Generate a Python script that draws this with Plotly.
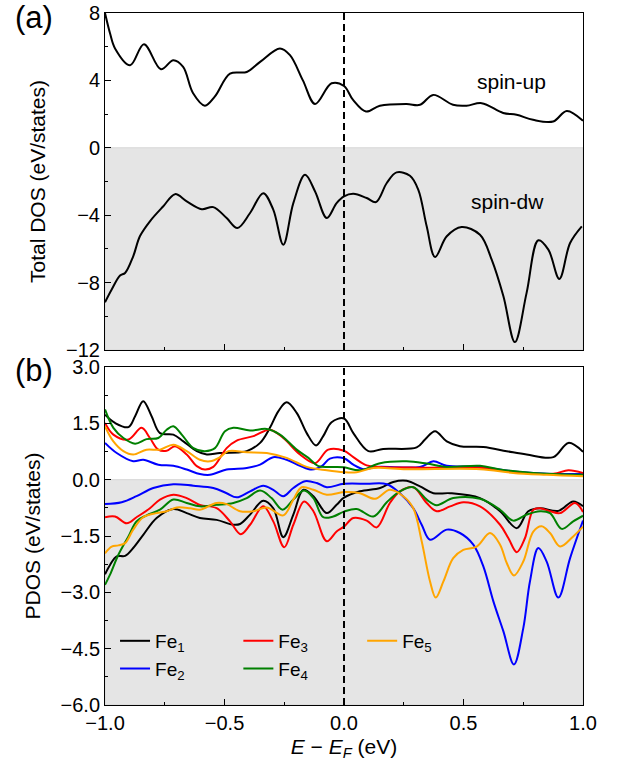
import plotly.graph_objects as go

# ---------------- Total DOS (panel a) ----------------
TOTAL_UP_E = [-1.0, -0.979, -0.958, -0.895, -0.837, -0.766, -0.714, -0.673, -0.632, -0.582,
              -0.54, -0.477, -0.407, -0.351, -0.268, -0.226, -0.172, -0.121, -0.052, 0.0,
              0.038, 0.092, 0.15, 0.262, 0.318, 0.373, 0.456, 0.513, 0.576, 0.666,
              0.722, 0.791, 0.875, 0.932, 1.0]
TOTAL_UP = [8.0, 6.8, 5.9, 4.9, 6.15, 4.66, 5.2, 4.8, 3.25, 2.5,
            3.05, 4.4, 4.5, 5.1, 5.9, 5.5, 4.0, 2.6, 3.83, 3.67,
            2.84, 2.15, 2.5, 2.6, 2.55, 3.14, 2.55, 2.5, 2.65, 2.07,
            1.96, 1.66, 1.56, 2.19, 1.6]

TOTAL_DW_E = [-1.0, -0.972, -0.937, -0.916, -0.882, -0.854, -0.812, -0.756, -0.707, -0.658,
              -0.595, -0.547, -0.491, -0.446, -0.393, -0.338, -0.296, -0.254, -0.212, -0.163,
              -0.121, -0.072, -0.031, 0.0, 0.039, 0.095, 0.134, 0.179, 0.22, 0.276,
              0.311, 0.346, 0.381, 0.43, 0.492, 0.569, 0.618, 0.667, 0.715, 0.764,
              0.813, 0.855, 0.901, 0.946, 0.995]
TOTAL_DW = [-9.17, -8.41, -7.58, -7.43, -6.44, -5.25, -4.36, -3.47, -2.75, -3.18,
            -3.64, -3.52, -4.17, -4.76, -3.87, -2.69, -3.67, -5.75, -3.28, -1.6,
            -2.59, -4.17, -3.28, -2.88, -2.73, -2.98, -3.22, -2.09, -1.46, -1.66,
            -2.49, -4.66, -6.48, -5.25, -4.7, -5.16, -6.64, -8.81, -11.53, -8.61,
            -5.49, -6.04, -7.78, -5.65, -4.66]

# ---------------- Projected DOS (panel b) ----------------
FE1_UP_E = [-1.0, -0.958, -0.902, -0.874, -0.84, -0.805, -0.77, -0.714, -0.672, -0.616,
            -0.574, -0.519, -0.435, -0.407, -0.351, -0.31, -0.275, -0.24, -0.198, -0.156,
            -0.117, -0.087, -0.052, 0.0, 0.039, 0.102, 0.164, 0.304, 0.339, 0.381,
            0.43, 0.485, 0.583, 0.681, 0.764, 0.876, 0.939, 1.0]
FE1_UP = [1.73, 1.51, 1.40, 1.69, 2.09, 1.69, 1.24, 1.2, 1.02, 0.76,
          0.67, 0.71, 0.73, 0.76, 0.98, 1.38, 1.82, 2.06, 1.78, 1.24,
          0.91, 1.16, 1.53, 1.63, 1.24, 0.76, 0.82, 0.86, 1.07, 1.29,
          1.02, 0.89, 0.87, 0.76, 0.67, 0.6, 0.98, 0.74]

FE2_UP_E = [-1.0, -0.951, -0.882, -0.84, -0.777, -0.714, -0.658, -0.603, -0.561, -0.491,
            -0.407, -0.351, -0.296, -0.24, -0.184, -0.135, -0.093, -0.059, 0.0, 0.039,
            0.081, 0.137, 0.318, 0.374, 0.43, 0.569, 0.708, 0.848, 1.0]
FE2_UP = [0.98, 0.71, 0.49, 0.53, 0.4, 0.37, 0.27, 0.15, 0.13, 0.27,
          0.31, 0.4, 0.6, 0.53, 0.37, 0.27, 0.36, 0.56, 0.57, 0.4,
          0.28, 0.34, 0.34, 0.49, 0.37, 0.34, 0.22, 0.16, 0.15]

FE3_UP_E = [-1.0, -0.965, -0.902, -0.847, -0.812, -0.777, -0.742, -0.707, -0.658, -0.616,
            -0.582, -0.547, -0.491, -0.449, -0.379, -0.31, -0.254, -0.184, -0.121, -0.066,
            0.0, 0.039, 0.095, 0.151, 0.318, 0.569, 0.708, 0.876, 0.939, 1.0]
FE3_UP = [1.51, 1.2, 1.07, 1.38, 1.11, 0.8, 0.77, 0.89, 0.67, 0.36,
          0.27, 0.34, 0.84, 1.04, 1.16, 1.33, 1.11, 0.67, 0.44, 0.8,
          0.77, 0.6, 0.38, 0.34, 0.32, 0.32, 0.2, 0.16, 0.25, 0.18]

FE4_UP_E = [-1.0, -0.965, -0.923, -0.874, -0.826, -0.777, -0.742, -0.714, -0.679, -0.63,
            -0.582, -0.54, -0.498, -0.463, -0.393, -0.323, -0.268, -0.198, -0.149, -0.107,
            -0.045, 0.0, 0.067, 0.151, 0.262, 0.346, 0.43, 0.569, 0.653, 0.792, 1.0]
FE4_UP = [1.87, 1.38, 1.11, 0.96, 1.08, 1.11, 1.33, 1.42, 1.2, 0.84,
          0.76, 0.84, 1.29, 1.38, 1.31, 1.35, 1.2, 0.8, 0.58, 0.36,
          0.34, 0.33, 0.25, 0.44, 0.49, 0.43, 0.34, 0.37, 0.27, 0.18, 0.13]

FE5_UP_E = [-1.0, -0.965, -0.923, -0.882, -0.826, -0.77, -0.714, -0.658, -0.603, -0.561,
            -0.519, -0.484, -0.407, -0.323, -0.24, -0.156, -0.072, 0.0, 0.053, 0.123,
            0.262, 0.569, 0.708, 0.848, 1.0]
FE5_UP = [1.42, 1.02, 0.76, 0.67, 0.8, 0.8, 0.93, 0.76, 0.53, 0.49,
          0.6, 0.76, 0.73, 0.71, 0.58, 0.34, 0.25, 0.2, 0.2, 0.31,
          0.28, 0.28, 0.18, 0.13, 0.09]

FE1_DW_E = [-1.0, -0.979, -0.951, -0.916, -0.882, -0.84, -0.784, -0.714, -0.658, -0.603,
            -0.533, -0.463, -0.435, -0.393, -0.338, -0.296, -0.254, -0.212, -0.17, -0.128,
            -0.072, -0.031, 0.0, 0.067, 0.151, 0.206, 0.262, 0.318, 0.374, 0.444,
            0.569, 0.653, 0.723, 0.771, 0.82, 0.897, 0.959, 1.0]
FE1_DW = [-2.52, -2.27, -2.04, -2.03, -1.82, -1.47, -1.02, -0.78, -0.89, -1.02,
          -1.07, -1.2, -1.18, -0.93, -0.56, -0.76, -1.53, -0.93, -0.27, -0.44,
          -0.89, -0.67, -0.48, -0.31, -0.22, -0.06, -0.03, -0.18, -0.36, -0.36,
          -0.49, -0.84, -1.29, -0.84, -0.76, -0.83, -0.58, -0.71]

FE2_DW_E = [-1.0, -0.93, -0.868, -0.798, -0.714, -0.63, -0.547, -0.491, -0.449, -0.393,
            -0.338, -0.296, -0.254, -0.212, -0.163, -0.114, -0.072, 0.0, 0.095, 0.179,
            0.234, 0.29, 0.325, 0.36, 0.43, 0.485, 0.541, 0.583, 0.625, 0.667,
            0.711, 0.75, 0.778, 0.813, 0.848, 0.897, 0.946, 1.0]
FE2_DW = [-0.65, -0.6, -0.44, -0.22, -0.12, -0.16, -0.22, -0.36, -0.47, -0.31,
          -0.16, -0.27, -0.44, -0.22, -0.04, -0.09, -0.2, -0.11, -0.11, -0.12,
          -0.36, -0.76, -1.2, -1.6, -1.33, -1.42, -1.73, -2.31, -3.24, -4.04,
          -4.92, -3.96, -2.71, -1.82, -2.18, -3.14, -2.09, -1.09]

FE3_DW_E = [-1.0, -0.958, -0.909, -0.868, -0.812, -0.77, -0.714, -0.658, -0.603, -0.533,
            -0.477, -0.432, -0.393, -0.338, -0.296, -0.25, -0.212, -0.167, -0.128, -0.072,
            -0.031, 0.0, 0.039, 0.095, 0.137, 0.192, 0.234, 0.29, 0.346, 0.388,
            0.444, 0.499, 0.569, 0.653, 0.688, 0.723, 0.757, 0.792, 0.82, 0.862,
            0.904, 0.967, 1.0]
FE3_DW = [-1.0, -0.98, -1.16, -1.0, -0.76, -0.53, -0.4, -0.49, -0.67, -0.76,
          -1.11, -1.45, -1.2, -0.71, -1.11, -1.8, -1.2, -0.58, -0.84, -1.64,
          -1.38, -1.25, -1.02, -1.09, -1.27, -0.62, -0.31, -0.2, -0.62, -0.84,
          -0.71, -0.6, -0.71, -1.2, -1.56, -1.93, -1.56, -0.8, -0.76, -0.84,
          -0.89, -0.62, -0.86]

FE4_DW_E = [-1.0, -0.979, -0.944, -0.902, -0.868, -0.826, -0.77, -0.714, -0.658, -0.603,
            -0.533, -0.463, -0.407, -0.351, -0.303, -0.257, -0.212, -0.167, -0.128, -0.087,
            -0.045, 0.0, 0.053, 0.123, 0.179, 0.234, 0.29, 0.346, 0.388, 0.457,
            0.569, 0.653, 0.708, 0.764, 0.82, 0.862, 0.911, 0.959, 1.0]
FE4_DW = [-2.8, -2.53, -2.0, -1.51, -1.11, -0.95, -0.8, -0.53, -0.62, -0.71,
          -0.67, -0.62, -0.49, -0.29, -0.49, -0.8, -0.53, -0.29, -0.49, -1.0,
          -0.98, -0.85, -0.78, -0.98, -0.6, -0.31, -0.2, -0.53, -0.68, -0.49,
          -0.51, -0.8, -1.09, -0.93, -0.84, -0.89, -1.31, -1.11, -0.96]

FE5_DW_E = [-1.0, -0.972, -0.944, -0.916, -0.882, -0.84, -0.784, -0.742, -0.7, -0.644,
            -0.603, -0.533, -0.491, -0.435, -0.379, -0.323, -0.254, -0.212, -0.177, -0.128,
            -0.072, 0.0, 0.067, 0.13, 0.192, 0.248, 0.29, 0.325, 0.36, 0.384,
            0.416, 0.457, 0.499, 0.555, 0.611, 0.653, 0.681, 0.711, 0.75, 0.792,
            0.827, 0.862, 0.904, 0.959, 1.0]
FE5_DW = [-1.96, -1.78, -1.75, -1.69, -1.33, -1.0, -0.89, -0.84, -0.74, -0.76,
          -0.8, -0.62, -0.65, -0.84, -0.84, -0.74, -0.95, -0.53, -0.2, -0.27,
          -0.4, -0.33, -0.36, -0.51, -0.27, -0.44, -0.76, -1.64, -2.71, -3.14,
          -2.71, -2.09, -1.87, -1.78, -1.42, -1.73, -2.22, -2.55, -2.18, -1.38,
          -1.24, -1.42, -1.78, -1.51, -1.25]

ATOM_NAMES = ["Fe<sub>1</sub>", "Fe<sub>2</sub>", "Fe<sub>3</sub>", "Fe<sub>4</sub>", "Fe<sub>5</sub>"]
ATOM_COLORS = ["#000000", "#0000ff", "#ff0000", "#008000", "#ffa500"]
ATOM_LEGENDS = ["legend", "legend", "legend2", "legend2", "legend3"]
PDOS_UP = [(FE1_UP_E, FE1_UP), (FE2_UP_E, FE2_UP), (FE3_UP_E, FE3_UP),
           (FE4_UP_E, FE4_UP), (FE5_UP_E, FE5_UP)]
PDOS_DW = [(FE1_DW_E, FE1_DW), (FE2_DW_E, FE2_DW), (FE3_DW_E, FE3_DW),
           (FE4_DW_E, FE4_DW), (FE5_DW_E, FE5_DW)]

FONT = "Liberation Sans, Arial, sans-serif"
LW = 2

fig = go.Figure()

# panel (a): total DOS, both spin channels
for e, d in [(TOTAL_UP_E, TOTAL_UP), (TOTAL_DW_E, TOTAL_DW)]:
    fig.add_trace(go.Scatter(x=e, y=d, mode="lines", xaxis="x", yaxis="y",
                             line=dict(color="black", width=LW, shape="spline", smoothing=1.0),
                             showlegend=False, hoverinfo="skip"))

# panel (b): projected DOS per Fe site
for i, name in enumerate(ATOM_NAMES):
    for k, (e, d) in enumerate([PDOS_UP[i], PDOS_DW[i]]):
        fig.add_trace(go.Scatter(x=e, y=d, mode="lines", xaxis="x2", yaxis="y2",
                                 name=name, legendgroup=name, legend=ATOM_LEGENDS[i],
                                 showlegend=(k == 0),
                                 line=dict(color=ATOM_COLORS[i], width=LW,
                                           shape="spline", smoothing=1.0),
                                 hoverinfo="skip"))

GRAY = "rgb(229,229,229)"
# shaded spin-down half of each panel
fig.add_shape(type="rect", xref="x domain", yref="y", x0=0, x1=1, y0=-12, y1=0,
              fillcolor=GRAY, line=dict(width=1, color="rgb(214,214,214)"), layer="below")
fig.add_shape(type="rect", xref="x2 domain", yref="y2", x0=0, x1=1, y0=-6, y1=0,
              fillcolor=GRAY, line=dict(width=1, color="rgb(214,214,214)"), layer="below")
# Fermi level
for xr, yr in [("x", "y domain"), ("x2", "y2 domain")]:
    fig.add_shape(type="line", xref=xr, yref=yr, x0=0, x1=0, y0=0, y1=1,
                  line=dict(color="black", width=2, dash="7px,4px"), layer="above")

axis_common = dict(showline=True, linecolor="black", linewidth=1, mirror=True,
                   ticks="inside", ticklen=6, tickwidth=1, tickcolor="black",
                   showgrid=False, zeroline=False, automargin=False,
                   tickfont=dict(family=FONT, size=20, color="black"))

fig.update_layout(
    width=617, height=761,
    margin=dict(l=105, r=34, t=13, b=56),
    paper_bgcolor="white", plot_bgcolor="white",
    font=dict(family=FONT, color="black"),
    xaxis=dict(domain=[0, 1], anchor="y", range=[-1, 1], dtick=0.5, tick0=0,
               showticklabels=False,
               minor=dict(ticks="inside", ticklen=3, dtick=0.25, tick0=0, tickcolor="black"),
               **axis_common),
    yaxis=dict(domain=[0.513, 1], anchor="x", range=[-12, 8], dtick=4, tick0=0,
               minor=dict(ticks="inside", ticklen=3, dtick=2, tick0=0, tickcolor="black"),
               title=dict(text="Total DOS (eV/states)", standoff=14,
                          font=dict(family=FONT, size=21, color="black")),
               **axis_common),
    xaxis2=dict(domain=[0, 1], anchor="y2", range=[-1, 1], dtick=0.5, tick0=0,
                tickformat=".1f",
                minor=dict(ticks="inside", ticklen=3, dtick=0.25, tick0=0, tickcolor="black"),
                title=dict(text="<i>E</i> \u2212 <i>E</i><sub><i>F</i></sub> (eV)", standoff=6,
                           font=dict(family=FONT, size=21, color="black")),
                **axis_common),
    yaxis2=dict(domain=[0, 0.4884], anchor="x2", range=[-6, 3], dtick=1.5, tick0=0,
                tickformat=".1f",
                minor=dict(ticks="inside", ticklen=3, dtick=0.75, tick0=0, tickcolor="black"),
                title=dict(text="PDOS (eV/states)", standoff=14,
                           font=dict(family=FONT, size=21, color="black")),
                **axis_common),
)

legend_common = dict(bgcolor="rgba(0,0,0,0)", borderwidth=0, orientation="v",
                     xanchor="left", yanchor="top", tracegroupgap=0,
                     font=dict(family=FONT, size=19, color="black"))
fig.update_layout(
    legend=dict(x=0.021, y=0.12, **legend_common),
    legend2=dict(x=0.279, y=0.12, **legend_common),
    legend3=dict(x=0.538, y=0.12, **legend_common),
)

# panel tags and spin-channel labels
fig.add_annotation(text="(a)", xref="paper", yref="paper", x=-0.148, y=0.994,
                   xanchor="center", yanchor="middle", showarrow=False,
                   font=dict(family=FONT, size=31, color="black"))
fig.add_annotation(text="(b)", xref="paper", yref="paper", x=-0.148, y=0.4827,
                   xanchor="center", yanchor="middle", showarrow=False,
                   font=dict(family=FONT, size=31, color="black"))
fig.add_annotation(text="spin-up", xref="x", yref="y", x=0.699, y=3.91,
                   showarrow=False, font=dict(family=FONT, size=21, color="black"))
fig.add_annotation(text="spin-dw", xref="x", yref="y", x=0.686, y=-3.2,
                   showarrow=False, font=dict(family=FONT, size=21, color="black"))

fig.write_html("out.html")
